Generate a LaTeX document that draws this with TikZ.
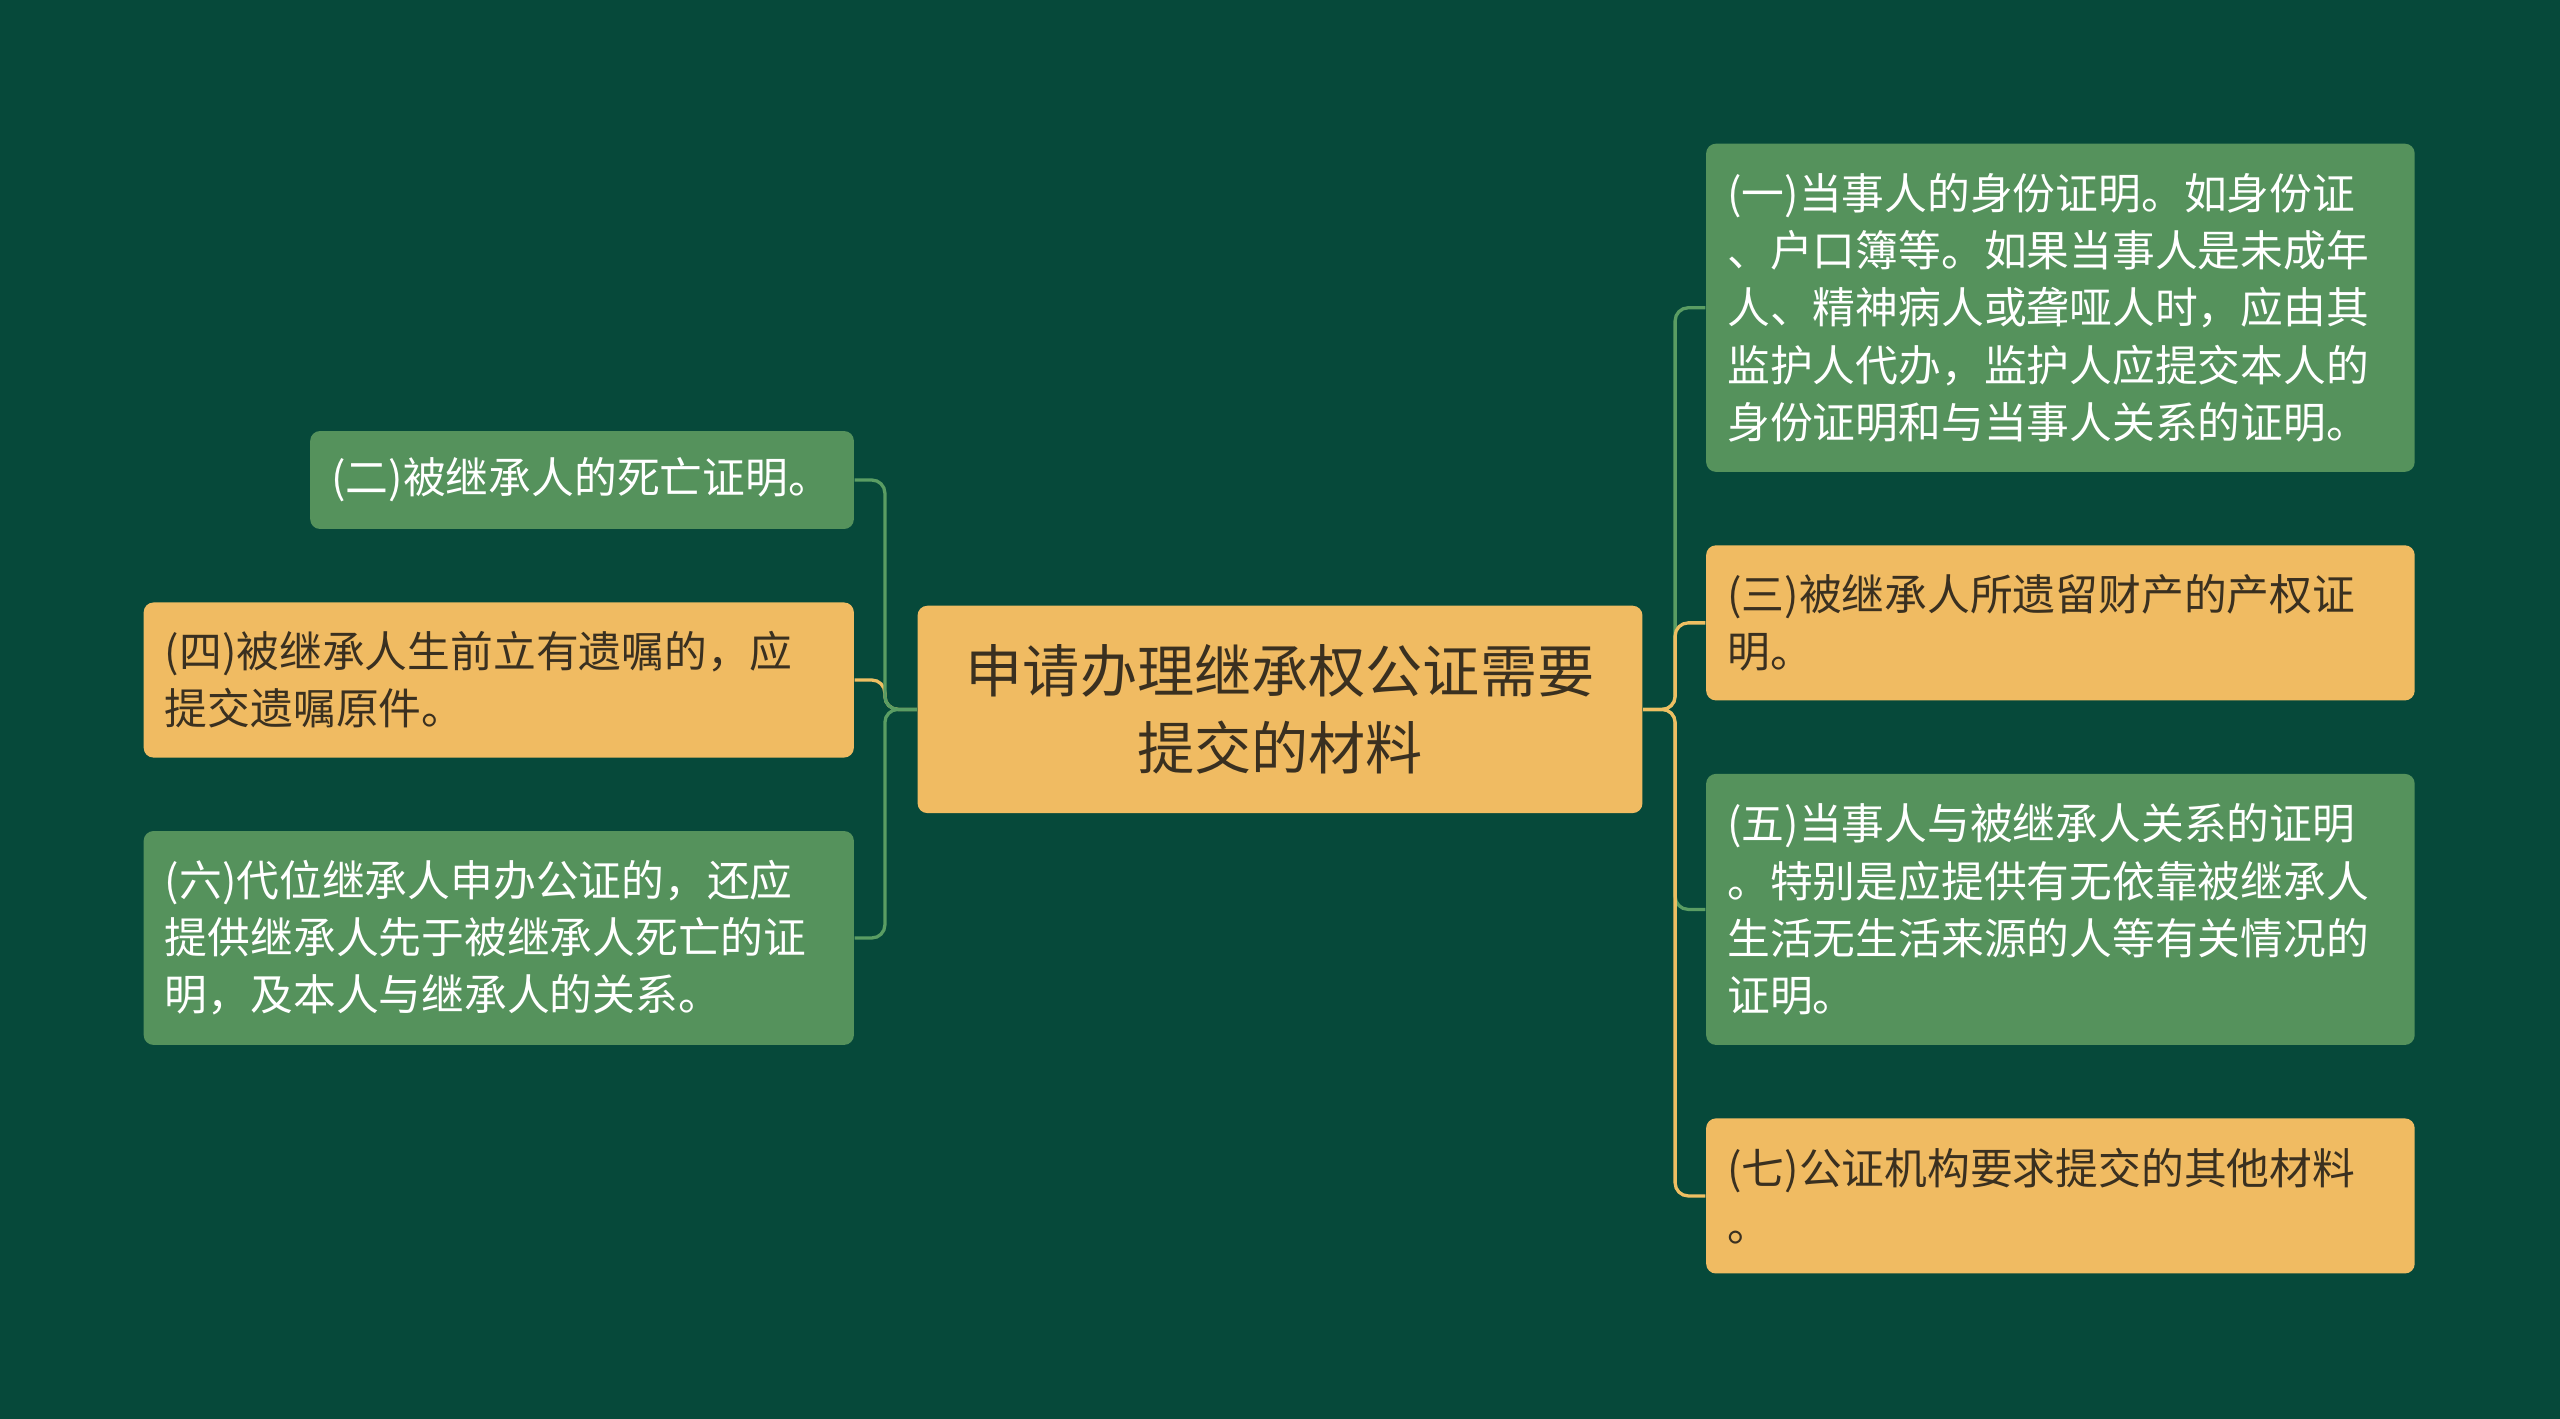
\documentclass[tikz,border=0pt]{standalone}
\usepackage{fontspec}
\setmainfont{Noto Sans CJK SC}
\definecolor{bg}{HTML}{06493A}
\definecolor{boxg}{HTML}{55925C}
\definecolor{boxo}{HTML}{F0BB62}
\definecolor{txtd}{HTML}{3A3020}
\definecolor{lineg}{HTML}{5A9D63}
\definecolor{lineo}{HTML}{EEBF62}
\begin{document}
\begin{tikzpicture}[x=0.5pt,y=-0.5pt,
  box/.style={rounded corners=3pt, inner xsep=6.5pt, inner ysep=0pt, align=left, font=\fontsize{13.1}{17.5}\selectfont},
  gbox/.style={box, fill=boxg, text=white},
  obox/.style={box, fill=boxo, text=txtd},
  gline/.style={draw=lineg, line width=1pt, rounded corners=4pt},
  oline/.style={draw=lineo, line width=1pt, rounded corners=4pt}]
\fill[bg] (0,0) rectangle (1568,869);
\node[obox, align=center, minimum width=222pt, minimum height=63.5pt, font=\fontsize{17.5}{23.5}\selectfont] (c) at (784,434.5) {申请办理继承权公证需要\\提交的材料};
\node[gbox, text width=204pt, minimum height=100.5pt] (n1) at (1262,188.5) {(一)当事人的身份证明。如身份证\\、户口簿等。如果当事人是未成年\\人、精神病人或聋哑人时，应由其\\监护人代办，监护人应提交本人的\\身份证明和与当事人关系的证明。};
\node[obox, text width=204pt, minimum height=47.5pt] (n3) at (1262,381.5) {(三)被继承人所遗留财产的产权证\\明。};
\node[gbox, text width=204pt, minimum height=83pt] (n5) at (1262,557) {(五)当事人与被继承人关系的证明\\。特别是应提供有无依靠被继承人\\生活无生活来源的人等有关情况的\\证明。};
\node[obox, text width=204pt, minimum height=47.5pt] (n7) at (1262,732.5) {(七)公证机构要求提交的其他材料\\。};
\node[gbox, text width=153.5pt, minimum height=30pt] (n2) at (356.5,294) {(二)被继承人的死亡证明。};
\node[obox, text width=204.5pt, minimum height=47.5pt] (n4) at (305.5,416.5) {(四)被继承人生前立有遗嘱的，应\\提交遗嘱原件。};
\node[gbox, text width=204.5pt, minimum height=65.5pt] (n6) at (305.5,574.5) {(六)代位继承人申办公证的，还应\\提供继承人先于被继承人死亡的证\\明，及本人与继承人的关系。};
\coordinate (lj) at (542,434.5);
\coordinate (rj) at (1026,434.5);
\draw[oline] (c.west) -- (lj) |- (n4.east);
\draw[gline] (c.west) -- (lj) |- (n2.east);
\draw[gline] (c.west) -- (lj) |- (n6.east);
\draw[gline] (c.east) -- (rj) |- (n1.east -| n1.west);
\draw[gline] (c.east) -- (rj) |- (n5.west);
\draw[oline] (c.east) -- (rj) |- (n3.west);
\draw[oline] (c.east) -- (rj) |- (n7.west);
\end{tikzpicture}
\end{document}
